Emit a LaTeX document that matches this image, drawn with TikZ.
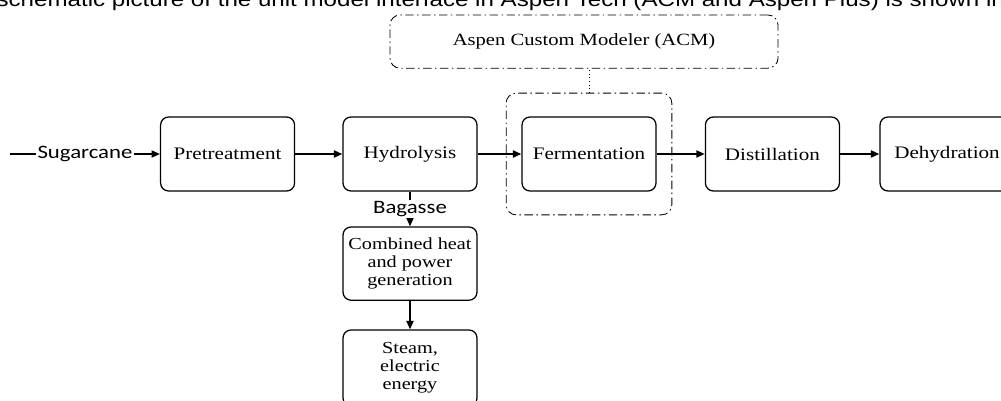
\documentclass[tikz,border=0pt]{standalone}
\usepackage{fontspec}
\setmainfont[FakeStretch=1.2]{Liberation Serif}
\newfontfamily\streamfont[FakeStretch=1.2]{Carlito}
\newfontfamily\notefont[FakeStretch=1.2]{Liberation Sans}
\usetikzlibrary{positioning, arrows.meta, fit}
\definecolor{linecolor}{RGB}{0, 0, 0}

\begin{document}
\begin{tikzpicture}[
    unit/.style={rectangle, rounded corners=0.2cm, draw=linecolor, line width=0.9pt,
                 minimum width=3.35cm, minimum height=1.85cm, align=center,
                 font=\fontsize{12.5}{13}\selectfont},
    group/.style={rectangle, rounded corners=0.25cm, draw=linecolor, line width=0.6pt,
                  dash pattern=on 6pt off 2.5pt on 1pt off 2.5pt},
    stream/.style={fill=white, inner sep=1pt, font=\streamfont\fontsize{13.5}{15}\selectfont},
    arrow/.style={-{Triangle[length=6pt, width=5pt]}, linecolor, line width=1.3pt},
]
\useasboundingbox (0,0) rectangle (25.025,-10.025);

% --- Column x-positions ---
\def\colI{5.69}
\def\colII{10.25}
\def\colIII{14.725}
\def\colIV{19.31}
\def\colV{23.675}
\def\rowmain{-3.85}

% ======= TEXT LINE (top) =======
\node[anchor=base, font=\notefont\fontsize{14.3}{16}\selectfont, inner sep=0pt] (txt) at (12.52,-0.165)
    {schematic picture of the unit model interface in Aspen Tech (ACM and Aspen Plus) is shown in};

% ======= MAIN TRAIN =======
\node[unit] (pre)   at (\colI,   \rowmain) {Pretreatment};
\node[unit] (hyd)   at (\colII,  \rowmain) {Hydrolysis};
\node[unit] (ferm)  at (\colIII, \rowmain) {Fermentation};
\node[unit] (dist)  at (\colIV,  \rowmain) {Distillation};
\node[unit] (dehyd) at (\colV,   \rowmain) {Dehydration};

% ======= SIDE BRANCH =======
\node[unit, minimum height=1.83cm, font=\fontsize{12}{13}\selectfont] (chp) at (\colII, -6.59)
    {Combined heat\\and power\\generation};
\node[unit, minimum height=1.9cm, font=\fontsize{12}{13}\selectfont] (steam) at (\colII, -9.2)
    {\\[-0.2cm]Steam,\\electric\\energy};

% ======= ACM =======
\node[group, inner xsep=0.38cm, inner ysep=0.58cm, fit=(ferm)] (acm-box) {};
\node[group, minimum width=9.7cm, minimum height=1.33cm, font=\fontsize{12.2}{14}\selectfont]
    (acm) at (14.6,-1.04) {Aspen Custom Modeler (ACM)};
\draw[linecolor, line width=0.6pt, dotted] (acm-box.north) -- (acm-box.north |- acm.south);

% ======= CONNECTIONS =======
\coordinate (feed) at (0.25,\rowmain);
\draw[arrow] (feed) -- node[stream] {Sugarcane} (pre);
\draw[arrow] (pre) -- (hyd);
\draw[arrow] (hyd) -- (ferm);
\draw[arrow] (ferm) -- (dist);
\draw[arrow] (dist) -- (dehyd);
\draw[arrow] (hyd) -- node[stream] {Bagasse} (chp);
\draw[arrow] (chp) -- (steam);

\end{tikzpicture}
\end{document}
